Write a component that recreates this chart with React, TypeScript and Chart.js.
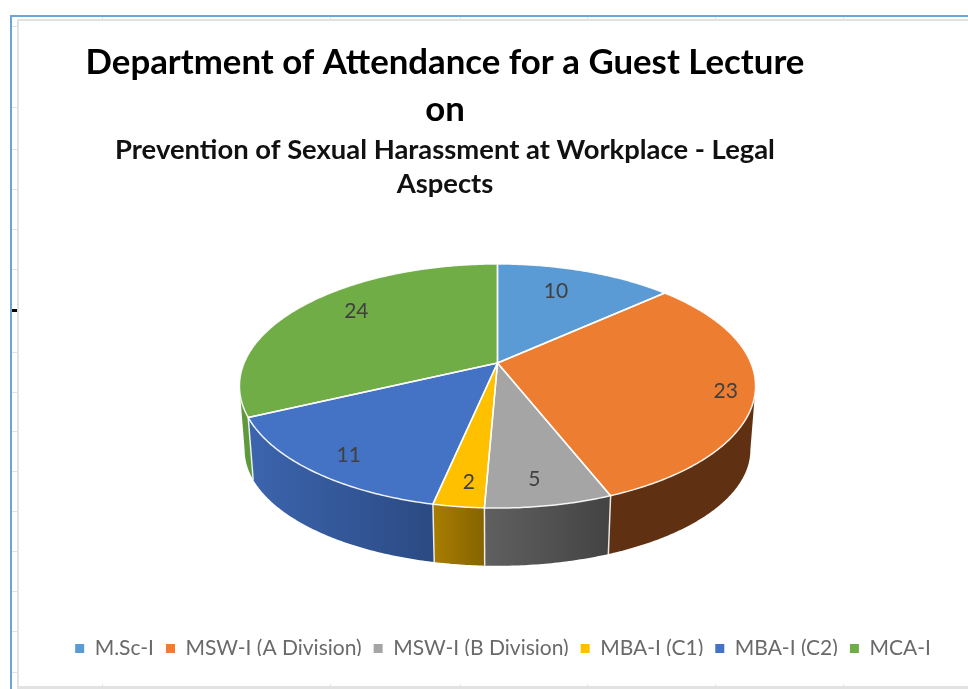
import React, { useEffect, useRef } from "react";
import { Chart, registerables } from "chart.js";

Chart.register(...registerables);

const categories = ["M.Sc-I", "MSW-I (A Division)", "MSW-I (B Division)", "MBA-I (C1)", "MBA-I (C2)", "MCA-I"];
const attendance = [10, 23, 5, 2, 11, 24];
const sliceColors = ["#5b9bd5", "#ed7d31", "#a5a5a5", "#ffc000", "#4472c4", "#70ad47"];
const wallLeft = ["#3d6f9e", "#5f3012", "#606060", "#a87d00", "#3c65ae", "#5e9a3c"];
const wallRight = ["#3d6f9e", "#5f3012", "#434343", "#856400", "#2b4a83", "#5e9a3c"];
const titleLines = ["Department of Attendance for a Guest Lecture", "on"];
const subtitleLines = ["Prevention of Sexual Harassment at Workplace - Legal", "Aspects"];
const labelNudges = [[-10, 0], [37, 7], [0, 15], [-1, 17], [-16, 14], [8, -8]];
const sideTicks = [26, 107, 149, 189, 229, 269, 352, 392, 431, 471, 511, 551, 591, 631, 672];
const edgeTicks = [102, 330, 460, 587, 715, 843];

// perspective disc -> screen
const CX = 497.5, CY = 363, AX = 253.4, AY = 117.7, K = -0.1885;
const LOW_CY = 428, LOW_X = 0.98, LOW_Y = 0.95;

function rim(theta: number, r = 1) {
  const u = Math.sin(theta) * r, v = -Math.cos(theta) * r, d = 1 + K * v;
  return { x: CX + (AX * u) / d, y: CY + (AY * v) / d };
}
function lowRim(theta: number) {
  const u = Math.sin(theta), v = -Math.cos(theta), d = 1 + K * v;
  return { x: CX + (AX * LOW_X * u) / d, y: LOW_CY + (AY * LOW_Y * v) / d };
}
const VIS_A = (100.9 * Math.PI) / 180, VIS_B = (259.1 * Math.PI) / 180;

const pie3d = {
  id: "pie3d",
  afterLayout(chart: any) {
    for (const b of chart.boxes) {
      const t = b.options && b.options.text;
      if (Array.isArray(t) && t[0] === titleLines[0]) {
        b.left = 0; b.right = 890; b.top = 39.5; b.bottom = 133;
      } else if (Array.isArray(t) && t[0] === subtitleLines[0]) {
        b.left = 0; b.right = 890; b.top = 133; b.bottom = 200;
      }
    }
    const lg = chart.legend;
    const w = lg.right - lg.left;
    lg.left = 503 - w / 2; lg.right = 503 + w / 2;
    lg.top = 626; lg.bottom = 656;
  },
  beforeDraw(chart: any) {
    const c = chart.ctx;
    c.save();
    c.fillStyle = "#fff";
    c.fillRect(0, 0, 968, 689);
    c.fillStyle = "#e2e2e2";
    c.fillRect(17, 19, 951, 2);
    c.fillRect(17, 19, 2, 670);
    c.fillRect(17, 686, 951, 3);
    for (const y of sideTicks) c.fillRect(11, y, 7, 1);
    for (const x of edgeTicks) { c.fillRect(x, 17, 1, 2); c.fillRect(x, 684, 1, 2); }
    c.fillStyle = "#6aa5dc";
    c.fillRect(10, 15, 958, 2);
    c.fillRect(10, 15, 2, 674);
    c.fillStyle = "#000";
    c.fillRect(12, 309, 5, 3);
    c.restore();
  },
  beforeDatasetsDraw(chart: any) {
    const c = chart.ctx;
    const arcs = chart.getDatasetMeta(0).data;
    const spans = arcs.map((a: any) => [a.startAngle + Math.PI / 2, a.endAngle + Math.PI / 2]);
    c.save();
    c.lineJoin = "round";
    // side walls
    spans.forEach(([s, e]: number[], i: number) => {
      const a = Math.max(s, VIS_A), b = Math.min(e, VIS_B);
      if (b <= a) return;
      const n = Math.ceil((b - a) / 0.01);
      c.beginPath();
      for (let j = 0; j <= n; j++) {
        const p = rim(a + ((b - a) * j) / n);
        j ? c.lineTo(p.x, p.y) : c.moveTo(p.x, p.y);
      }
      for (let j = n; j >= 0; j--) {
        const p = lowRim(a + ((b - a) * j) / n);
        c.lineTo(p.x, p.y);
      }
      c.closePath();
      const x0 = Math.min(rim(a).x, rim(b).x), x1 = Math.max(rim(a).x, rim(b).x);
      const g = c.createLinearGradient(x0, 0, x1, 0);
      g.addColorStop(0, wallLeft[i]);
      g.addColorStop(1, wallRight[i]);
      c.fillStyle = g;
      c.fill();
    });
    // seams between walls
    spans.forEach(([s]: number[]) => {
      if (s < VIS_A || s > VIS_B) return;
      const p = rim(s), q = lowRim(s);
      c.beginPath();
      c.moveTo(p.x, p.y);
      c.lineTo(q.x, q.y);
      c.strokeStyle = "rgba(255,255,255,0.85)";
      c.lineWidth = 1.5;
      c.stroke();
    });
    // top faces
    spans.forEach(([s, e]: number[], i: number) => {
      const n = Math.ceil((e - s) / 0.01);
      c.beginPath();
      c.moveTo(CX, CY);
      for (let j = 0; j <= n; j++) {
        const p = rim(s + ((e - s) * j) / n);
        c.lineTo(p.x, p.y);
      }
      c.closePath();
      c.fillStyle = sliceColors[i];
      c.fill();
    });
    spans.forEach(([s, e]: number[]) => {
      const n = Math.ceil((e - s) / 0.01);
      c.beginPath();
      c.moveTo(CX, CY);
      for (let j = 0; j <= n; j++) {
        const p = rim(s + ((e - s) * j) / n);
        c.lineTo(p.x, p.y);
      }
      c.closePath();
      c.strokeStyle = "rgba(255,255,255,0.9)";
      c.lineWidth = 1.5;
      c.stroke();
    });
    // data labels
    c.fillStyle = "#404040";
    c.font = "21px Lato";
    c.textAlign = "center";
    c.textBaseline = "middle";
    spans.forEach(([s, e]: number[], i: number) => {
      const p = rim((s + e) / 2, 0.75);
      c.fillText(String(attendance[i]), p.x + labelNudges[i][0], p.y + labelNudges[i][1]);
    });
    c.restore();
    return false;
  },
};

export default function App() {
  const ref = useRef<HTMLCanvasElement>(null);
  useEffect(() => {
    const chart = new Chart(ref.current as HTMLCanvasElement, {
      type: "pie",
      data: {
        labels: categories,
        datasets: [{ data: attendance, backgroundColor: sliceColors, borderWidth: 0 }],
      },
      plugins: [pie3d],
      options: {
        animation: false,
        responsive: false,
        devicePixelRatio: 1,
        layout: { padding: 0 },
        plugins: {
          tooltip: { enabled: false },
          title: {
            display: true,
            text: titleLines,
            color: "#000000",
            padding: 0,
            font: { family: "Lato", size: 34.8, weight: "bold", lineHeight: 1.35 },
          },
          subtitle: {
            display: true,
            text: subtitleLines,
            color: "#111111",
            padding: 0,
            font: { family: "Lato", size: 27.4, weight: "bold", lineHeight: 1.24 },
          },
          legend: {
            position: "bottom",
            labels: {
              color: "#6a6a6a",
              boxWidth: 9,
              boxHeight: 9,
              padding: 12,
              font: { family: "Lato", size: 21 },
            },
          },
        },
      },
    } as any);
    return () => chart.destroy();
  }, []);
  return (
    <div style={{ position: "fixed", left: 0, top: 0, width: 968, height: 689, background: "#fff" }}>
      <canvas ref={ref} width={968} height={689} style={{ display: "block", filter: "blur(0.5px)" }} />
    </div>
  );
}
